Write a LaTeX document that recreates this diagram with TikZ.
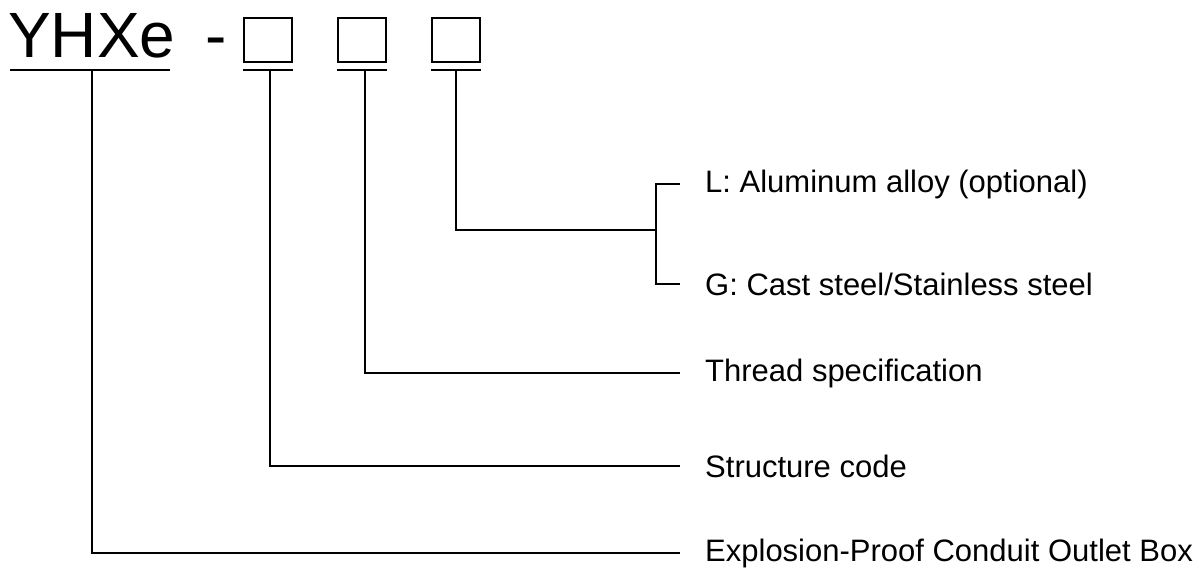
\documentclass[tikz,border=0pt]{standalone}
\usepackage{fontspec}
\setmainfont{Liberation Sans}
\usetikzlibrary{positioning}
\tikzset{
  lead/.style={line width=1.5pt},
  lbl/.style={anchor=west, inner sep=0pt, font=\fontsize{31}{34}\selectfont},
  box/.style={draw, line width=1.3pt, minimum width=48pt, minimum height=44pt, inner sep=0pt}
}
\begin{document}
\begin{tikzpicture}[x=1pt,y=-1pt]
        \useasboundingbox (0,0) rectangle (1200,578);
        % model code
        \node[anchor=base west, inner sep=0pt, font=\fontsize{64}{68}\selectfont] (model) at (8,58) {YHXe};
        \node[anchor=base, inner sep=0pt, font=\fontsize{64}{68}\selectfont] (dash) at (216,58) {-};
        \node[box] (boxA) at (268,40) {};
        \node[box] (boxB) at (362,40) {};
        \node[box] (boxC) at (456,40) {};
        % underlines
        \draw[lead] (10,70) -- (170,70);
        \foreach \x in {268,362,456} \draw[lead] (\x-25,70) -- (\x+25,70);
        % labels
        \node[lbl] (alloy) at (705,184) {L: Aluminum alloy (optional)};
        \node[lbl] (steel) at (705,284) {G: Cast steel/Stainless steel};
        \node[lbl] (thread) at (705,373) {Thread specification};
        \node[lbl] (struct) at (705,466) {Structure code};
        \node[lbl] (name) at (705,553) {Explosion-Proof Conduit Outlet Box};
        % leaders
        \coordinate (fork) at (656,230);
        \draw[lead] (456,70) |- (fork);
        \draw[lead] ([xshift=-25pt]alloy.west) -- ([xshift=-49pt]alloy.west) |- ([xshift=-25pt]steel.west);
        \draw[lead] (365,70) |- ([xshift=-25pt]thread.west);
        \draw[lead] (270,70) |- ([xshift=-25pt]struct.west);
        \draw[lead] (92,70) |- ([xshift=-25pt]name.west);
\end{tikzpicture}
\end{document}
